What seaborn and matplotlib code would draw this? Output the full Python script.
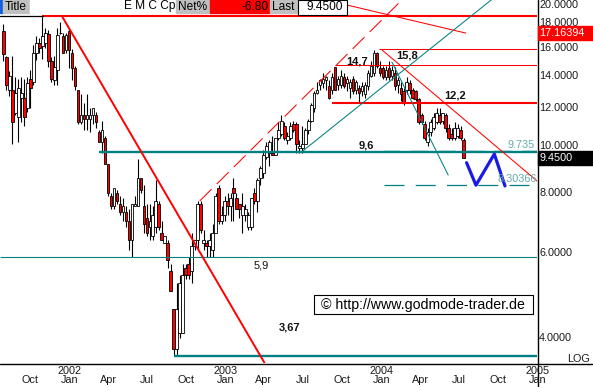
import numpy as np
import pandas as pd
import matplotlib
matplotlib.use("Agg")
import matplotlib.pyplot as plt
import matplotlib.dates as mdates
from matplotlib.patches import Rectangle
from matplotlib.lines import Line2D
import seaborn as sns

# ---------------- data (weekly candles, EMC) ----------------
first_week = "2001-07-30"
opens = [17.3, 15.3, 13.1, 13.1, 11.7, 11.5, 12.6, 12.6, 12.0, 13.8,
         13.6, 15.6, 16.4, 16.1, 16.4, 17.1, 15.0, 13.7, 14.4, 17.15,
         16.9, 15.8, 17.3, 15.6, 14.5, 13.1, 11.2, 11.6, 11.4, 11.4,
         11.6, 11.6, 10.7, 10.2, 10.4, 9.2, 7.9, 7.5, 8.0, 7.6,
         7.3, 7.3, 7.0, 6.4, 7.5, 7.5, 8.6, 7.5, 7.1, 6.8,
         6.5, 6.8, 7.6, 6.6, 6.3, 6.3, 5.5, 4.6, 3.8, 4.1,
         4.1, 5.6, 5.7, 5.5, 6.2, 6.4, 7.6, 6.3, 6.3, 6.2,
         6.1, 6.6, 8.2, 7.0, 7.2, 7.7, 7.5, 8.2, 7.8, 7.6,
         7.2, 7.2, 6.8, 6.8, 8.0, 7.7, 8.6, 8.8, 9.5, 9.7,
         9.7, 9.6, 10.4, 10.6, 11.0, 10.3, 10.4, 11.1, 11.1, 9.9,
         9.9, 10.1, 10.8, 11.3, 12.0, 12.9, 13.4, 13.5, 13.7, 13.3,
         13.1, 14.6, 13.4, 13.4, 13.9, 13.5, 13.2, 13.8, 13.1, 13.2,
         13.0, 12.8, 13.3, 14.0, 14.2, 15.6, 14.5, 14.5, 13.9, 14.5,
         14.0, 14.2, 13.4, 13.2, 13.0, 13.1, 13.5, 13.1, 13.0, 12.5,
         11.6, 11.1, 10.2, 10.7, 10.9, 11.2, 11.6, 11.3, 11.6, 10.9,
         10.6, 10.4, 10.5, 10.8, 10.3]
highs = [17.9, 15.4, 14.3, 15.4, 13.9, 13.8, 13.9, 13.8, 13.9, 14.4,
         16.2, 16.9, 16.8, 18.6, 17.6, 17.4, 15.3, 15.4, 17.6, 18.1,
         17.2, 17.2, 17.6, 15.9, 14.7, 13.1, 12.8, 12.3, 12.8, 12.0,
         12.0, 11.8, 10.8, 11.3, 10.5, 9.2, 8.0, 8.2, 8.1, 7.9,
         7.8, 7.5, 7.4, 7.6, 7.9, 9.4, 8.6, 8.3, 7.6, 7.6,
         7.5, 8.5, 7.7, 7.0, 6.5, 6.4, 5.7, 4.6, 5.2, 5.4,
         5.7, 5.7, 5.9, 6.6, 6.4, 7.7, 7.7, 6.7, 6.4, 6.6,
         6.9, 8.0, 8.3, 7.5, 7.9, 8.0, 8.0, 8.6, 8.0, 7.6,
         8.0, 7.6, 7.3, 7.8, 8.2, 8.6, 9.1, 9.8, 10.2, 10.3,
         10.5, 10.4, 11.2, 11.6, 11.2, 10.7, 11.2, 11.3, 11.2, 10.3,
         11.0, 10.9, 11.4, 12.3, 13.0, 13.6, 13.8, 14.2, 14.0, 13.7,
         14.2, 14.6, 14.0, 14.4, 14.2, 14.0, 13.8, 14.0, 13.7, 13.4,
         13.6, 13.6, 14.4, 15.0, 15.8, 15.7, 15.0, 14.7, 14.7, 15.0,
         14.7, 14.6, 13.9, 13.6, 13.2, 13.9, 13.7, 13.2, 13.1, 12.6,
         11.7, 11.3, 10.9, 11.4, 11.7, 12.0, 12.0, 11.7, 11.7, 11.1,
         10.9, 11.2, 11.1, 11.0, 10.4]
lows = [15.0, 13.1, 12.7, 10.1, 11.6, 10.2, 11.2, 11.0, 11.8, 12.0,
        13.4, 15.1, 15.6, 15.2, 16.0, 14.6, 13.6, 13.4, 13.4, 17.1,
        15.6, 15.6, 14.5, 13.7, 13.1, 11.1, 11.1, 10.8, 10.8, 10.7,
        11.1, 10.9, 10.2, 9.7, 9.2, 7.9, 7.4, 7.4, 7.6, 7.2,
        7.0, 6.8, 6.1, 5.9, 7.5, 7.5, 8.0, 6.6, 6.5, 6.4,
        6.4, 6.6, 6.7, 6.4, 6.3, 5.6, 5.0, 3.67, 3.67, 4.0,
        4.1, 5.3, 5.3, 5.2, 6.1, 6.1, 6.6, 6.1, 5.9, 5.9,
        5.9, 6.6, 6.9, 6.9, 7.0, 7.2, 7.0, 7.0, 7.4, 7.1,
        6.6, 7.0, 6.7, 6.7, 7.6, 7.3, 8.3, 8.6, 9.4, 9.1,
        9.6, 9.6, 10.3, 10.5, 10.3, 10.1, 10.3, 10.7, 9.7, 9.7,
        9.7, 10.1, 10.6, 11.2, 11.8, 12.8, 13.1, 13.2, 13.1, 12.5,
        12.8, 13.1, 13.1, 13.2, 13.2, 13.0, 12.6, 12.8, 12.8, 12.3,
        12.7, 12.6, 13.1, 13.9, 14.0, 14.5, 14.0, 13.8, 13.7, 13.7,
        13.7, 13.1, 12.9, 12.4, 12.2, 12.8, 12.8, 12.5, 12.4, 11.1,
        11.1, 10.3, 10.0, 10.5, 10.8, 11.1, 11.1, 11.1, 10.7, 10.3,
        10.3, 10.3, 10.4, 10.3, 9.45]
closes = [15.5, 13.4, 14.0, 11.2, 12.9, 13.2, 12.9, 11.5, 13.5, 13.2,
          15.6, 16.4, 16.0, 16.9, 17.2, 15.0, 13.8, 14.6, 17.0, 17.2,
          15.6, 17.0, 15.8, 14.5, 13.3, 11.2, 11.6, 11.4, 11.6, 11.6,
          12.0, 11.2, 10.2, 10.8, 9.2, 8.0, 7.5, 8.2, 7.7, 7.3,
          7.5, 7.0, 6.4, 7.6, 7.6, 8.6, 8.1, 6.9, 6.6, 7.0,
          7.2, 7.7, 6.8, 6.4, 6.5, 5.8, 5.0, 3.8, 4.6, 5.2,
          5.4, 5.4, 5.4, 6.2, 6.4, 7.6, 6.7, 6.4, 6.2, 6.4,
          6.6, 7.9, 7.0, 7.2, 7.7, 7.5, 7.8, 8.0, 7.4, 7.4,
          7.5, 7.4, 7.2, 7.8, 7.7, 8.5, 9.0, 9.6, 10.0, 10.2,
          9.6, 10.4, 10.8, 11.3, 10.4, 10.5, 11.0, 10.8, 10.1, 10.0,
          10.1, 10.8, 11.3, 12.2, 12.9, 13.1, 13.7, 13.8, 13.9, 12.6,
          13.9, 13.1, 13.8, 14.0, 13.3, 13.8, 13.6, 13.0, 13.6, 12.9,
          13.3, 13.4, 14.2, 14.7, 15.6, 14.7, 14.2, 13.9, 14.4, 13.9,
          14.4, 13.3, 13.7, 12.8, 12.3, 13.6, 13.1, 12.6, 12.5, 11.2,
          11.2, 10.4, 10.7, 11.2, 11.5, 11.7, 11.2, 11.7, 10.9, 10.4,
          10.4, 10.9, 10.9, 10.4, 9.45]

# horizontal levels: (start date, price)
res_high = ("2001-10-29", 18.62)
support_96 = ("2002-03-11", 9.735)
support_59 = ("2001-07-22", 5.9)
support_367 = ("2002-09-02", 3.67)
res_122 = ("2003-09-07", 12.27)
res_158 = ("2003-12-27", 15.88)
res_147 = ("2003-09-15", 14.73)
target_83 = ("2004-01-07", 8.30366)
level_texts = ["14,7", "15,8", "12,2", "9,6", "5,9", "3,67"]

# sloped trend lines: [(date, price), (date, price)]
down_main = [("2001-12-14", 18.62), ("2003-04-22", 3.32)]
up_channel_red = [("2002-11-02", 7.70), ("2004-03-01", 20.58)]
up_teal = [("2003-06-28", 9.72), ("2004-09-26", 20.48)]
down_teal = [("2004-01-26", 14.95), ("2004-06-06", 8.71)]
down_red_thin = [("2004-01-03", 15.83), ("2004-12-31", 8.47)]
down_red_top = [("2003-10-13", 19.62), ("2004-07-17", 17.16394)]
proj_dates = ["2004-07-19", "2004-08-10", "2004-09-22", "2004-10-17"]
proj_prices = [9.24, 8.30, 9.63, 8.27]

ytick_values = [4, 6, 8, 10, 12, 14, 16, 18, 20]
last_price = 9.45
net_pct = -6.80
top_line_value = 17.16394

# ---------------- figure ----------------
sns.set_style("white")
plt.rcParams['font.family'] = ['Liberation Sans', 'DejaVu Sans']

W, H = 593, 387
AX_R, AX_B = 537, 363
fig = plt.figure(figsize=(W / 100, H / 100), dpi=100)
fig.patch.set_facecolor("white")
ax = fig.add_axes([0, (H - AX_B) / H, AX_R / W, AX_B / H])
ax.set_yscale("log")
ax.set_ylim(3.55, 20.1)
d2n = lambda s: mdates.date2num(pd.Timestamp(s))
ax.set_xlim(d2n("2001-07-22"), d2n("2004-12-31"))
ax.set_xticks([])
ax.set_yticks([])
ax.set_yticks([], minor=True)
for s in ax.spines.values():
    s.set_visible(False)

df = pd.DataFrame(dict(date=pd.date_range(first_week, periods=len(opens), freq="7D"),
                       open=opens, high=highs, low=lows, close=closes))
xn = mdates.date2num(df["date"])
up = (df["close"] >= df["open"]).values
ax.vlines(xn, df["low"], df["high"], color="black", lw=0.8, zorder=3)
bot = np.minimum(df["open"], df["close"])
hgt = np.maximum(np.abs(df["close"] - df["open"]), 0.01)
ax.bar(xn, hgt, bottom=bot, width=6.2, color=np.where(up, "white", "#ff0000"),
       edgecolor="black", linewidth=0.6, zorder=4)

TEAL = "#008080"
RED = "#ff0000"
xr = d2n("2004-12-31")

def hline(lv, color, lw, ls="-"):
    ax.plot([d2n(lv[0]), xr], [lv[1], lv[1]], color=color, lw=lw, ls=ls, zorder=5,
            solid_capstyle="butt")

hline(res_high, RED, 1.5)
hline(support_96, TEAL, 1.7)
ax.plot([d2n("2004-01-05"), xr], [9.78, 9.78], color=TEAL, lw=1.0,
        ls=(0, (12, 8)), zorder=5)
hline(support_59, TEAL, 0.8)
hline(support_367, TEAL, 1.7)
hline(res_122, RED, 1.5)
hline(res_158, RED, 0.75)
hline(res_147, RED, 0.75)
hline(target_83, TEAL, 0.9, ls=(0, (16, 9)))

def seg(pts, color, lw, ls="-"):
    ax.plot([d2n(p[0]) for p in pts], [p[1] for p in pts], color=color, lw=lw,
            ls=ls, zorder=5)

seg(down_main, RED, 1.4)
seg(up_channel_red, RED, 0.75, ls=(0, (16, 7)))
seg(up_teal, TEAL, 0.75)
seg(down_teal, TEAL, 0.75)
seg(down_red_thin, RED, 0.75)
seg(down_red_top, RED, 0.75)

proj = pd.DataFrame(dict(x=[d2n(d) for d in proj_dates], y=proj_prices))
sns.lineplot(data=proj, x="x", y="y", ax=ax, color="#1a1ae6", lw=2.3, sort=False,
             zorder=6)
ax.set_xlabel("")
ax.set_ylabel("")
ax.set_xlim(d2n("2001-07-22"), d2n("2004-12-31"))
ax.set_ylim(3.55, 20.1)

# overlay in pixel coords
ov = fig.add_axes([0, 0, 1, 1], zorder=10)
ov.set_xlim(0, W)
ov.set_ylim(H, 0)
ov.axis("off")
ov.patch.set_alpha(0)

def ypx(price):
    return H - ax.transData.transform((xr, price))[1]

def xpx(date):
    return ax.transData.transform((d2n(date), 10))[0]

# axes frame lines
ov.add_line(Line2D([0, W], [AX_B + 0.5, AX_B + 0.5], color="black", lw=1.0))
ov.add_line(Line2D([AX_R + 0.5, AX_R + 0.5], [0, H], color="black", lw=1.0))

# right axis labels
for v in ytick_values:
    ov.text(539, max(ypx(v), 4.5), f"{v:.4f}", ha="left", va="center", fontsize=7.8,
            color="#1a1a1a")
ov.add_patch(Rectangle((AX_R + 1, ypx(top_line_value) - 7), W - AX_R, 13.5,
                       color=RED, zorder=11))
ov.text(539, ypx(top_line_value), f"{top_line_value:.5f}", ha="left", va="center",
        fontsize=7.8, color="white", zorder=12)
ov.add_patch(Rectangle((AX_R + 1, ypx(last_price) - 7), W - AX_R, 13.5,
                       color="black", zorder=11))
ov.text(539, ypx(last_price), f"{last_price:.4f}", ha="left", va="center",
        fontsize=7.8, color="white", zorder=12)
ov.text(590, 359, "LOG", ha="right", va="center", fontsize=7.8, color="#1a1a1a")

ov.text(535, ypx(support_96[1]) - 1.5, "9.735", ha="right", va="bottom",
        fontsize=7.8, color="#64aaaa")
ov.text(537, ypx(target_83[1]) - 1.5, "8.30366", ha="right", va="bottom",
        fontsize=7.8, color="#64aaaa", zorder=1)

# x axis labels
for d in pd.date_range("2001-10-01", "2005-01-01", freq="QS"):
    x = xpx(d)
    ov.text(x, 380, d.strftime("%b"), ha="center", va="center", fontsize=7.8,
            color="#1a1a1a")
    if d.month == 1:
        ov.text(x, 371, str(d.year), ha="center", va="center", fontsize=7.8,
                color="#1a1a1a")

# level labels
lab_pos = [(357, 62), (407, 56), (455, 95), (366, 146), (261, 265), (290, 327)]
for t, (x, y) in zip(level_texts, lab_pos):
    ov.text(x, y, t, ha="center", va="center", fontsize=8,
            fontweight="normal" if t == "5,9" else "bold", color="#111111")

# copyright box
ov.add_patch(Rectangle((314, 295), 219, 19, facecolor="white", edgecolor="black",
                       lw=0.8))
ov.text(321, 304.5, "\u00a9 http://www.godmode-trader.de", ha="left", va="center",
        fontsize=10.2, color="black")

# header bar
ov.add_patch(Rectangle((0, 0), 3, 13, color="#1060e0"))
ov.add_patch(Rectangle((3, 0), 27, 13, color="#c0c0c0"))
ov.add_patch(Rectangle((30, 0), 146, 13, color="white"))
ov.add_patch(Rectangle((176, 0), 34, 13, color="#c0c0c0"))
ov.add_patch(Rectangle((210, 0), 60, 13, color=RED))
ov.add_patch(Rectangle((270, 0), 28, 13, color="#c0c0c0"))
ov.add_patch(Rectangle((298, 0), 49, 15, facecolor="white", edgecolor="black", lw=0.8))
ov.add_line(Line2D([0, 43], [15.5, 15.5], color="black", lw=0.9))
hdr = dict(va="center", fontsize=8.6, color="black")
ov.text(5, 6.5, "Title", ha="left", **hdr)
ov.text(175, 6.5, "E M C Cp", ha="right", **hdr)
ov.text(178, 6.5, "Net%", ha="left", **hdr)
ov.text(268, 6.5, f"{net_pct:.2f}", ha="right", **hdr)
ov.text(272, 6.5, "Last", ha="left", **hdr)
ov.text(343, 6.5, f"{last_price:.4f}", ha="right", **hdr)

fig.savefig("out.png", dpi=100)
